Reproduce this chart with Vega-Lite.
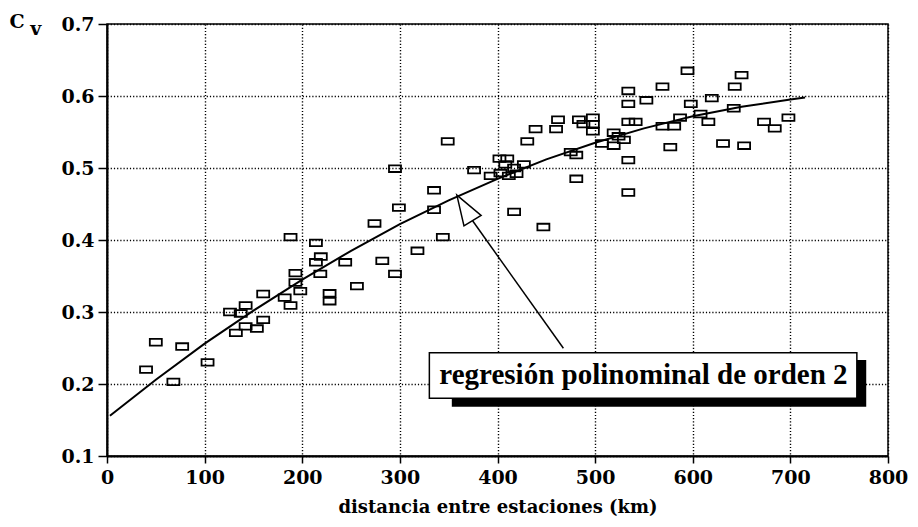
{
  "$schema": "https://vega.github.io/schema/vega-lite/v6.json",
  "width": 781,
  "height": 432,
  "autosize": {"type": "none"},
  "padding": {"left": 107, "top": 24, "right": 30, "bottom": 71},
  "background": "white",
  "config": {
    "view": {"stroke": "black", "strokeWidth": 1.5},
    "axis": {
      "labelFont": "DejaVu Serif", "labelFontWeight": "bold", "labelFontSize": 19, "labelColor": "black",
      "titleFont": "DejaVu Serif", "titleFontWeight": "bold", "titleFontSize": 18, "titleColor": "black",
      "domainColor": "black", "domainWidth": 2, "tickColor": "black", "tickWidth": 1.5,
      "gridColor": "black", "gridDash": [1.2, 2], "gridWidth": 1.4, "gridOpacity": 1
    }
  },
  "datasets": {
    "puntos": [
      {"d": 40, "cv": 0.22}, {"d": 50, "cv": 0.258}, {"d": 77, "cv": 0.252}, {"d": 68, "cv": 0.203}, {"d": 103, "cv": 0.23},
      {"d": 188, "cv": 0.404}, {"d": 193, "cv": 0.354}, {"d": 193, "cv": 0.341}, {"d": 198, "cv": 0.329}, {"d": 182, "cv": 0.32},
      {"d": 188, "cv": 0.309}, {"d": 160, "cv": 0.325}, {"d": 142, "cv": 0.309}, {"d": 126, "cv": 0.3}, {"d": 137, "cv": 0.298},
      {"d": 160, "cv": 0.289}, {"d": 142, "cv": 0.28}, {"d": 153.5, "cv": 0.277}, {"d": 132, "cv": 0.271},
      {"d": 349, "cv": 0.537}, {"d": 295, "cv": 0.499}, {"d": 376, "cv": 0.497}, {"d": 393, "cv": 0.489}, {"d": 402, "cv": 0.513},
      {"d": 335, "cv": 0.469}, {"d": 299, "cv": 0.445}, {"d": 335, "cv": 0.442}, {"d": 274, "cv": 0.423}, {"d": 344, "cv": 0.404},
      {"d": 214, "cv": 0.396}, {"d": 318, "cv": 0.385}, {"d": 219, "cv": 0.377}, {"d": 214, "cv": 0.369}, {"d": 244, "cv": 0.369},
      {"d": 282, "cv": 0.371}, {"d": 218.5, "cv": 0.353}, {"d": 295, "cv": 0.353}, {"d": 256, "cv": 0.336}, {"d": 228, "cv": 0.326},
      {"d": 228, "cv": 0.315},
      {"d": 594.6, "cv": 0.635}, {"d": 569, "cv": 0.613}, {"d": 534, "cv": 0.607}, {"d": 619.5, "cv": 0.597}, {"d": 552.5, "cv": 0.594},
      {"d": 534, "cv": 0.589}, {"d": 598, "cv": 0.589}, {"d": 462, "cv": 0.567}, {"d": 483.4, "cv": 0.567}, {"d": 497.7, "cv": 0.57},
      {"d": 497.7, "cv": 0.561}, {"d": 488, "cv": 0.561}, {"d": 497.7, "cv": 0.551}, {"d": 460, "cv": 0.554}, {"d": 439, "cv": 0.554},
      {"d": 534, "cv": 0.564}, {"d": 541.5, "cv": 0.564}, {"d": 569, "cv": 0.558}, {"d": 581, "cv": 0.558}, {"d": 587, "cv": 0.57},
      {"d": 608, "cv": 0.575}, {"d": 616, "cv": 0.564}, {"d": 430.5, "cv": 0.537}, {"d": 519, "cv": 0.549}, {"d": 524, "cv": 0.544},
      {"d": 529.5, "cv": 0.539}, {"d": 507, "cv": 0.534}, {"d": 519, "cv": 0.531}, {"d": 577, "cv": 0.529}, {"d": 475, "cv": 0.522},
      {"d": 480.7, "cv": 0.518}, {"d": 410, "cv": 0.513}, {"d": 408, "cv": 0.505}, {"d": 427, "cv": 0.505}, {"d": 417, "cv": 0.5},
      {"d": 403, "cv": 0.493}, {"d": 419.5, "cv": 0.492}, {"d": 411.6, "cv": 0.489}, {"d": 534, "cv": 0.511}, {"d": 480.7, "cv": 0.485},
      {"d": 534, "cv": 0.466}, {"d": 417, "cv": 0.439}, {"d": 447, "cv": 0.418},
      {"d": 650, "cv": 0.629}, {"d": 643, "cv": 0.613}, {"d": 642, "cv": 0.583}, {"d": 673, "cv": 0.564}, {"d": 684, "cv": 0.555},
      {"d": 698, "cv": 0.57}, {"d": 631, "cv": 0.534}, {"d": 652.6, "cv": 0.531}
    ],
    "curva": [
      {"d": 3, "cv": 0.156}, {"d": 50, "cv": 0.206}, {"d": 100, "cv": 0.256}, {"d": 150, "cv": 0.302},
      {"d": 200, "cv": 0.345}, {"d": 250, "cv": 0.385}, {"d": 300, "cv": 0.422}, {"d": 350, "cv": 0.455},
      {"d": 400, "cv": 0.485}, {"d": 450, "cv": 0.512}, {"d": 500, "cv": 0.535}, {"d": 550, "cv": 0.555},
      {"d": 600, "cv": 0.572}, {"d": 650, "cv": 0.585}, {"d": 700, "cv": 0.595}, {"d": 715, "cv": 0.598}
    ]
  },
  "layer": [
    {
      "data": {"name": "puntos"},
      "mark": {"type": "point", "shape": "M-1,-0.55H1V0.55H-1Z", "size": 144, "filled": false, "stroke": "black", "strokeWidth": 1.8, "opacity": 1},
      "encoding": {
        "x": {
          "field": "d", "type": "quantitative",
          "scale": {"domain": [0, 800], "nice": false, "zero": false},
          "axis": {"values": [0, 100, 200, 300, 400, 500, 600, 700, 800], "title": "distancia entre estaciones (km)", "tickSize": 7, "labelPadding": 5, "titlePadding": 11, "grid": true, "labelFlush": false}
        },
        "y": {
          "field": "cv", "type": "quantitative",
          "scale": {"domain": [0.1, 0.7], "nice": false, "zero": false},
          "axis": {"values": [0.1, 0.2, 0.3, 0.4, 0.5, 0.6, 0.7], "format": ".1f", "title": null, "tickSize": 9, "labelPadding": 4, "grid": true, "labelFlush": false}
        }
      }
    },
    {
      "data": {"name": "curva"},
      "mark": {"type": "line", "color": "black", "strokeWidth": 2},
      "encoding": {
        "x": {"field": "d", "type": "quantitative"},
        "y": {"field": "cv", "type": "quantitative"}
      }
    },
    {
      "data": {"values": [{}]},
      "mark": {"type": "rule", "color": "black", "strokeWidth": 1.5},
      "encoding": {
        "x": {"datum": 467.5, "type": "quantitative"},
        "y": {"datum": 0.2496, "type": "quantitative"},
        "x2": {"datum": 374.5},
        "y2": {"datum": 0.4267}
      }
    },
    {
      "data": {"values": [{}]},
      "mark": {"type": "point", "shape": "M0,-1L0.67,1L-0.67,1Z", "size": 900, "angle": -31.5, "filled": true, "fill": "white", "stroke": "black", "strokeWidth": 1.5, "opacity": 1},
      "encoding": {
        "x": {"datum": 366.4, "type": "quantitative"},
        "y": {"datum": 0.4446, "type": "quantitative"}
      }
    },
    {
      "data": {"values": [{}]},
      "mark": {"type": "rect", "fill": "black"},
      "encoding": {
        "x": {"datum": 353.2, "type": "quantitative"},
        "x2": {"datum": 777.7},
        "y": {"datum": 0.2333, "type": "quantitative"},
        "y2": {"datum": 0.1685}
      }
    },
    {
      "data": {"values": [{}]},
      "mark": {"type": "rect", "fill": "white", "stroke": "black", "strokeWidth": 1.5},
      "encoding": {
        "x": {"datum": 330.2, "type": "quantitative"},
        "x2": {"datum": 768.1},
        "y": {"datum": 0.2435, "type": "quantitative"},
        "y2": {"datum": 0.1801}
      }
    },
    {
      "data": {"values": [{}]},
      "mark": {"type": "text", "text": "regresión polinominal de orden 2", "font": "Liberation Serif", "fontWeight": "bold", "fontSize": 29, "align": "center", "baseline": "middle", "color": "black"},
      "encoding": {
        "x": {"datum": 549.5, "type": "quantitative"},
        "y": {"datum": 0.2125, "type": "quantitative"}
      }
    },
    {
      "data": {"values": [{}]},
      "mark": {"type": "text", "text": "C", "font": "DejaVu Serif", "fontWeight": "bold", "fontSize": 19, "align": "center", "baseline": "middle", "color": "black"},
      "encoding": {
        "x": {"datum": -92.2, "type": "quantitative"},
        "y": {"datum": 0.7028, "type": "quantitative"}
      }
    },
    {
      "data": {"values": [{}]},
      "mark": {"type": "text", "text": "v", "font": "DejaVu Serif", "fontWeight": "bold", "fontSize": 19, "align": "center", "baseline": "middle", "color": "black"},
      "encoding": {
        "x": {"datum": -73, "type": "quantitative"},
        "y": {"datum": 0.693, "type": "quantitative"}
      }
    }
  ]
}
